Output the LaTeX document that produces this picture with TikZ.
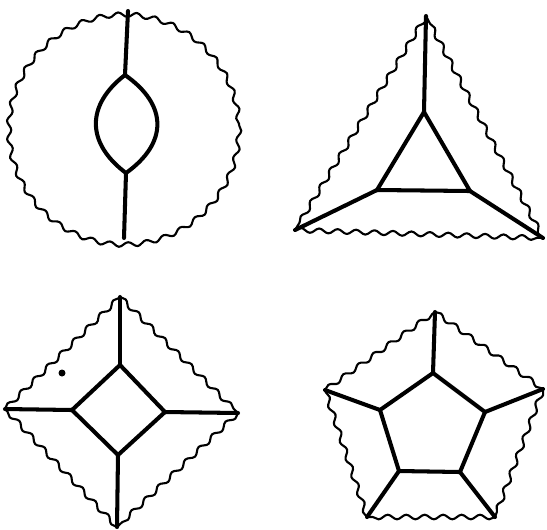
\documentclass[tikz,border=0pt]{standalone}
\usetikzlibrary{decorations.pathmorphing}
\tikzset{
  wavy/.style={decorate, decoration={snake, amplitude=1.3pt, segment length=10.5pt}, line width=1.2pt, line join=round},
  spoke/.style={line width=2.3pt, line join=round, line cap=round},
}
\begin{document}
\begin{tikzpicture}[x=0.02cm, y=-0.02cm]
  \useasboundingbox (0,0) rectangle (547,529);
  % circle with lens
  \coordinate (cc) at (124,125);
  \coordinate (ct) at (128,11);
  \coordinate (cb) at (124,238);
  \coordinate (lt) at (125,75);
  \coordinate (lb) at (126,173);
  \draw[wavy] (cc) circle (115);
  \draw[spoke] (ct) -- (lt);
  \draw[spoke] (lb) -- (cb);
  \draw[spoke] (lt) .. controls (86,105) and (86,143) .. (lb)
                    .. controls (168,143) and (168,105) .. (lt);
  % triangle
  \coordinate (ta) at (426,16);
  \coordinate (tb) at (295,230);
  \coordinate (tc) at (543,238);
  \coordinate (ia) at (424,112);
  \coordinate (ib) at (377,190);
  \coordinate (ic) at (470,191);
  \draw[wavy] (ta) -- (tb);
  \draw[wavy] (tb) -- (tc);
  \draw[wavy] (tc) -- (ta);
  \draw[spoke] (ia) -- (ib) -- (ic) -- cycle;
  \draw[spoke] (ta) -- (ia);
  \draw[spoke] (tb) -- (ib);
  \draw[spoke] (tc) -- (ic);
  % diamond
  \coordinate (da) at (120,297);
  \coordinate (db) at (238,413);
  \coordinate (dc) at (117,527);
  \coordinate (dd) at (5,409);
  \coordinate (ja) at (120,365);
  \coordinate (jb) at (165,412);
  \coordinate (jc) at (118,455);
  \coordinate (jd) at (72,410);
  \draw[wavy] (da) -- (db);
  \draw[wavy] (db) -- (dc);
  \draw[wavy] (dc) -- (dd);
  \draw[wavy] (dd) -- (da);
  \draw[spoke] (ja) -- (jb) -- (jc) -- (jd) -- cycle;
  \draw[spoke] (da) -- (ja);
  \draw[spoke] (db) -- (jb);
  \draw[spoke] (dc) -- (jc);
  \draw[spoke] (dd) -- (jd);
  \fill (62,373) circle (3.5);
  % pentagon
  \coordinate (pa) at (435,312);
  \coordinate (pb) at (543,389);
  \coordinate (pc) at (495,517);
  \coordinate (pd) at (367,517);
  \coordinate (pe) at (325,390);
  \coordinate (qa) at (433,373);
  \coordinate (qb) at (485,412);
  \coordinate (qc) at (460,472);
  \coordinate (qd) at (399,471);
  \coordinate (qe) at (380,410);
  \draw[wavy] (pa) -- (pb);
  \draw[wavy] (pb) -- (pc);
  \draw[wavy] (pc) -- (pd);
  \draw[wavy] (pd) -- (pe);
  \draw[wavy] (pe) -- (pa);
  \draw[spoke] (qa) -- (qb) -- (qc) -- (qd) -- (qe) -- cycle;
  \draw[spoke] (pa) -- (qa);
  \draw[spoke] (pb) -- (qb);
  \draw[spoke] (pc) -- (qc);
  \draw[spoke] (pd) -- (qd);
  \draw[spoke] (pe) -- (qe);
\end{tikzpicture}
\end{document}
